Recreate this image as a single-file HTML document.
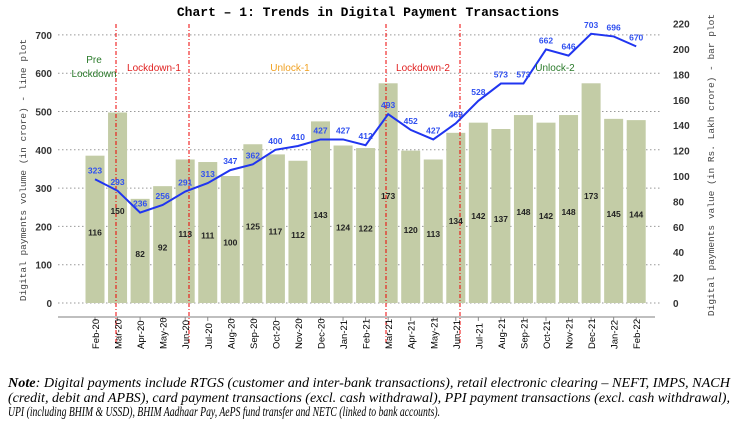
<!DOCTYPE html>
<html><head><meta charset="utf-8"><style>
html,body{margin:0;padding:0;background:#fff;}
svg{display:block;}
</style></head><body>
<svg width="737" height="429" viewBox="0 0 737 429" xmlns="http://www.w3.org/2000/svg">
<rect width="737" height="429" fill="#fff"/>
<text x="368" y="16" font-family="Liberation Mono, monospace" font-weight="bold" font-size="13" text-anchor="middle" fill="#000">Chart – 1: Trends in Digital Payment Transactions</text>
<g id="grid" stroke="#999" stroke-dasharray="1.5,2.5" stroke-width="1"></g>
<g id="bars"></g>
<g id="vl" stroke="#e00" stroke-dasharray="4,2,1,2" stroke-width="1"></g>
<line x1="58" y1="317" x2="655" y2="317" stroke="#aaa" stroke-width="1.5"/>
<g id="ticks"></g>
<g id="line"></g>
<g id="lab" font-family="Liberation Sans, sans-serif" font-size="8.5" font-weight="bold"></g>
<text x="94" y="63" font-family="Liberation Sans, sans-serif" font-size="10" fill="#2a7a2a" text-anchor="middle">Pre</text>
<text x="94" y="77" font-family="Liberation Sans, sans-serif" font-size="10" fill="#2a7a2a" text-anchor="middle">Lockdown</text>
<text x="154" y="71" font-family="Liberation Sans, sans-serif" font-size="10" fill="#e02020" text-anchor="middle">Lockdown-1</text>
<text x="290" y="71" font-family="Liberation Sans, sans-serif" font-size="10" fill="#f0a020" text-anchor="middle">Unlock-1</text>
<text x="423" y="71" font-family="Liberation Sans, sans-serif" font-size="10" fill="#e02020" text-anchor="middle">Lockdown-2</text>
<text x="555" y="71" font-family="Liberation Sans, sans-serif" font-size="10" fill="#2a7a2a" text-anchor="middle">Unlock-2</text>
<text transform="translate(26,170) rotate(-90)" font-family="Liberation Mono, monospace" font-size="9.5" fill="#444" text-anchor="middle">Digital payments volume (in crore) - line plot</text>
<text transform="translate(714,165) rotate(-90)" font-family="Liberation Mono, monospace" font-size="9.5" fill="#444" text-anchor="middle">Digital payments value (in Rs. Lakh crore) - bar plot</text>
<g font-family="Liberation Serif, serif" font-style="italic" font-size="13.5" fill="#000">
<text x="8" y="387" textLength="722" lengthAdjust="spacingAndGlyphs"><tspan font-weight="bold">Note</tspan>: Digital payments include RTGS (customer and inter-bank transactions), retail electronic clearing – NEFT, IMPS, NACH</text>
<text x="8" y="402" textLength="722" lengthAdjust="spacingAndGlyphs">(credit, debit and APBS), card payment transactions (excl. cash withdrawal), PPI payment transactions (excl. cash withdrawal),</text>
<text x="8" y="416" textLength="432" lengthAdjust="spacingAndGlyphs">UPI (including BHIM &amp; USSD), BHIM Aadhaar Pay, AePS fund transfer and NETC (linked to bank accounts).</text>
</g>
</svg>
<script>
const NS="http://www.w3.org/2000/svg";
function el(p,t,a,txt){const e=document.createElementNS(NS,t);for(const k in a)e.setAttribute(k,a[k]);if(txt!==undefined)e.textContent=txt;document.getElementById(p).appendChild(e);return e;}
const months=["Feb-20","Mar-20","Apr-20","May-20","Jun-20","Jul-20","Aug-20","Sep-20","Oct-20","Nov-20","Dec-20","Jan-21","Feb-21","Mar-21","Apr-21","May-21","Jun-21","Jul-21","Aug-21","Sep-21","Oct-21","Nov-21","Dec-21","Jan-22","Feb-22"];
const bars=[116,150,82,92,113,111,100,125,117,112,143,124,122,173,120,113,134,142,137,148,142,148,173,145,144];
const line=[323,293,236,256,291,313,347,362,400,410,427,427,412,493,452,427,469,528,573,573,662,646,703,696,670];
const y0=303, ly=v=>y0-v*0.383, ry=v=>y0-v*1.27;
const X=i=>95+i*22.55;
for(let v=0;v<=700;v+=100){el("grid","line",{x1:58,x2:660,y1:ly(v),y2:ly(v)});
 el("ticks","text",{x:52,y:ly(v)+4,"text-anchor":"end","font-family":"Liberation Sans, sans-serif","font-size":"10","font-weight":"bold",fill:"#333"},v);}
for(let v=0;v<=220;v+=20){el("ticks","text",{x:673,y:ry(v)+4,"font-family":"Liberation Sans, sans-serif","font-size":"10","font-weight":"bold",fill:"#333"},v);}
bars.forEach((b,i)=>{const x=X(i);el("bars","rect",{x:x-9.5,y:ry(b),width:19,height:y0-ry(b),fill:"#c3cca6"});
 el("lab","text",{x:x,y:(ry(b)+y0)/2+6,"text-anchor":"middle",fill:"#222"},b);
 el("ticks","line",{x1:x,x2:x,y1:317,y2:321,stroke:"#888"});
 el("ticks","text",{transform:`translate(${x+4},349) rotate(-90)`,"font-family":"Liberation Sans, sans-serif","font-size":"9.5",fill:"#000"},months[i]);});
[116,189,386,460].forEach(x=>el("vl","line",{x1:x,x2:x,y1:24,y2:345}));
el("line","polyline",{points:line.map((v,i)=>X(i)+","+ly(v)).join(" "),fill:"none",stroke:"#2035f0","stroke-width":"2"});
line.forEach((v,i)=>el("lab","text",{x:X(i),y:ly(v)-6,"text-anchor":"middle",fill:"#3050f0"},v));
</script>
</body></html>
